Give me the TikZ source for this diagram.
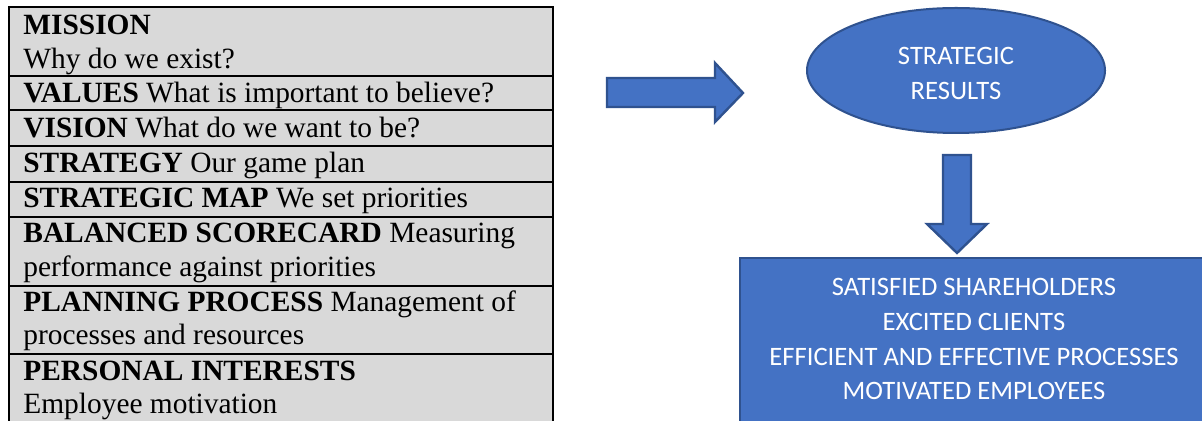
\documentclass[tikz,border=0pt]{standalone}
\usepackage{fontspec}
\setmainfont{Liberation Serif}
\newfontfamily\calfont{Carlito}
\usetikzlibrary{shapes.geometric}
\definecolor{blueF}{HTML}{4472C4}
\definecolor{blueD}{HTML}{2F528F}
\definecolor{cellgray}{HTML}{D9D9D9}
\begin{document}
\begin{tikzpicture}[x=0.5pt,y=-0.5pt,
  rowtext/.style={anchor=base west, inner sep=0pt, font=\fontsize{14.7}{17}\selectfont},
  bluetext/.style={anchor=base, inner sep=0pt, text=white, font=\calfont\fontsize{13.3}{16}\selectfont},
  gridline/.style={line width=1.4pt, black},
  blockarrow/.style={fill=blueF, draw=blueD, line width=1.2pt, line join=miter},
  bluebox/.style={fill=blueF, draw=blueD, line width=1pt, inner sep=0pt}]
\useasboundingbox (0,0) rectangle (1202,421);
\begin{scope}
\clip (0,0) rectangle (1202,421);
% table
\fill[cellgray] (9,7) rectangle (553,440);
\foreach \y in {76,110,146,182,217,286,354} \draw[gridline] (9,\y) -- (553,\y);
\draw[gridline] (9,440) -- (9,7) -- (553,7) -- (553,440);
\node[rowtext] (mission) at (23,35) {\textbf{MISSION}};
\node[rowtext] (missionq) at (23,69) {Why do we exist?};
\node[rowtext] (values) at (23,103) {\textbf{VALUES} What is important to believe?};
\node[rowtext] (vision) at (23,138) {\textbf{VISION} What do we want to be?};
\node[rowtext] (strategy) at (23,173) {\textbf{STRATEGY} Our game plan};
\node[rowtext] (map) at (23,208) {\textbf{STRATEGIC MAP} We set priorities};
\node[rowtext] (bsc) at (23,243) {\textbf{BALANCED SCORECARD} Measuring};
\node[rowtext] (bsc2) at (23,277) {performance against priorities};
\node[rowtext] (plan) at (23,312) {\textbf{PLANNING PROCESS} Management of};
\node[rowtext] (plan2) at (23,345) {processes and resources};
\node[rowtext] (personal) at (23,380) {\textbf{PERSONAL INTERESTS}};
\node[rowtext] (personal2) at (23,413) {Employee motivation};
% right arrow
\draw[blockarrow] (607,78) -- (715,78) -- (715,63) -- (743,93) -- (715,122) -- (715,107) -- (607,107) -- cycle;
% ellipse
\node[bluebox, ellipse, minimum width=149pt, minimum height=62.5pt] (results) at (956,70.5) {};
\node[bluetext] (results1) at (956,65) {STRATEGIC};
\node[bluetext] (results2) at (956,100) {RESULTS};
% down arrow
\draw[blockarrow] (943,155) -- (971,155) -- (971,224) -- (987,224) -- (957,253) -- (927,224) -- (943,224) -- cycle;
% outcomes box
\node[bluebox, rectangle, anchor=north west, minimum width=238pt, minimum height=100pt] (outcomes) at (739,257) {};
\node[bluetext] (o1) at (974,296) {SATISFIED SHAREHOLDERS};
\node[bluetext] (o2) at (974,331) {EXCITED CLIENTS};
\node[bluetext] (o3) at (974,365.5) {EFFICIENT AND EFFECTIVE PROCESSES};
\node[bluetext] (o4) at (974,400) {MOTIVATED EMPLOYEES};
\end{scope}
\end{tikzpicture}
\end{document}
